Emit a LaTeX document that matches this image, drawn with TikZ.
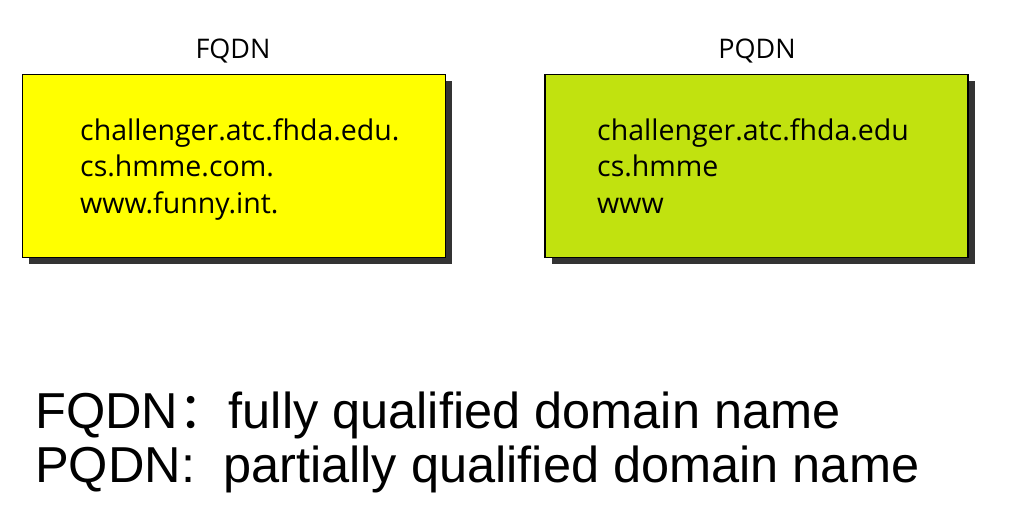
\documentclass[tikz,border=0pt]{standalone}
\usepackage{fontspec}
\setmainfont{Open Sans}
\newfontfamily\arialfont{Liberation Sans}
\newfontfamily\cjkfont{Noto Sans CJK SC}
\definecolor{boxyellow}{HTML}{FFFF00}
\definecolor{boxgreen}{HTML}{C1E20F}
\definecolor{shadowgray}{HTML}{333333}
\begin{document}
\begin{tikzpicture}[x=1pt,y=-1pt,
  domainbox/.style={draw=black, line width=1.6pt, minimum width=423pt, minimum height=183pt, inner sep=0pt},
  boxshadow/.style={fill=shadowgray, minimum width=423pt, minimum height=183pt, inner sep=0pt},
  title/.style={font=\fontsize{27}{32}\selectfont, anchor=base},
  entry/.style={font=\fontsize{28.5}{36}\selectfont, anchor=base west, inner sep=0pt, align=left},
  legend/.style={font=\arialfont\fontsize{50.5}{56}\selectfont, anchor=base west, inner sep=0pt}]
\useasboundingbox (0,0) rectangle (1020,531);
% shadows
\node[boxshadow] (fshadow) at (240.5,172.5) {};
\node[boxshadow] (pshadow) at (763,172.5) {};
% boxes
\node[domainbox, fill=boxyellow] (fbox) at (234,166) {};
\node[domainbox, fill=boxgreen] (pbox) at (756.5,166) {};
% titles
\node[title] (ftitle) at (233,58) {FQDN};
\node[title] (ptitle) at (757,58) {PQDN};
% entries
\node[entry] (f1) at (80,140) {challenger.atc.fhda.edu.};
\node[entry] (f2) at (80,176.5) {cs.hmme.com.};
\node[entry] (f3) at (80,213) {www.funny.int.};
\node[entry] (p1) at (597,140) {challenger.atc.fhda.edu};
\node[entry] (p2) at (597,176.5) {cs.hmme};
\node[entry] (p3) at (597,213) {www};
% legend
\node[legend] (lf) at (35,428) {FQDN{\cjkfont ：}fully qualified domain name};
\node[legend] (lp) at (35,482) {PQDN:\ \ partially qualified domain name};
\end{tikzpicture}
\end{document}
